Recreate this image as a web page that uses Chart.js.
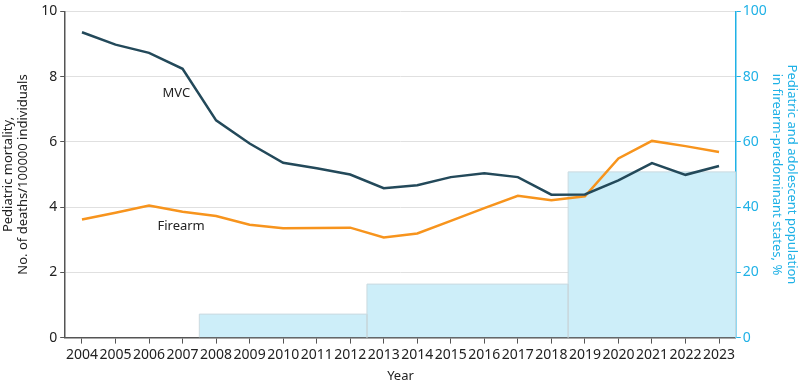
<!DOCTYPE html>
<html>
<head>
<meta charset="utf-8">
<script src="https://cdn.jsdelivr.net/npm/chart.js@4"></script>
<style>
  body { margin: 0; background: #fff; }
  #wrap { width: 810px; height: 384px; }
</style>
</head>
<body>
<div id="wrap"><canvas id="lineChart"></canvas></div>
<script>
const years = [2004, 2005, 2006, 2007, 2008, 2009, 2010, 2011, 2012, 2013,
               2014, 2015, 2016, 2017, 2018, 2019, 2020, 2021, 2022, 2023];
const mvc = [9.36, 8.98, 8.73, 8.24, 6.66, 5.95, 5.36, 5.19, 5.00, 4.58,
             4.67, 4.92, 5.04, 4.92, 4.38, 4.39, 4.82, 5.35, 4.99, 5.26];
const firearm = [3.62, 3.83, 4.05, 3.86, 3.73, 3.46, 3.35, 3.36, 3.37, 3.07,
                 3.19, 3.58, 3.97, 4.35, 4.21, 4.33, 5.49, 6.03, 5.87, 5.69];
// share of population living in firearm-predominant states, by period
const periodStart = [2007.5, 2012.5, 2018.5];
const periodEnd = [2012.5, 2018.5, 2023.5];
const periodShare = [7.2, 16.4, 50.8];
const leftTicks = [0, 2, 4, 6, 8, 10];
const rightTicks = [0, 20, 40, 60, 80, 100];

const font = "'Noto Sans', sans-serif";
const cyan = '#1fb1e6';

const mvcLine = years.map((y, i) => ({ x: y, y: mvc[i] }));
const firearmLine = years.map((y, i) => ({ x: y, y: firearm[i] }));

const boxes = periodShare.map((v, i) => ({
    type: 'line',
    yAxisID: 'y2',
    data: [
        { x: periodStart[i], y: 0 },
        { x: periodStart[i], y: v },
        { x: periodEnd[i], y: v },
        { x: periodEnd[i], y: 0 }
    ],
    borderColor: '#c9d9df',
    borderWidth: 1,
    backgroundColor: '#cdeef9',
    fill: 'origin',
    pointRadius: 0,
    tension: 0,
    order: 10
}));

// series names written next to the lines
const seriesLabels = {
    id: 'seriesLabels',
    afterDatasetsDraw(chart) {
        const { ctx, scales } = chart;
        ctx.save();
        ctx.font = "13px " + font;
        ctx.fillStyle = '#222';
        ctx.textBaseline = 'middle';
        ctx.fillText('MVC', scales.x.getPixelForValue(2006.4), scales.y.getPixelForValue(7.5));
        ctx.fillText('Firearm', scales.x.getPixelForValue(2006.25), scales.y.getPixelForValue(3.4));
        ctx.restore();
    }
};

Chart.defaults.font.family = font;
Chart.defaults.font.size = 13;

new Chart(document.getElementById('lineChart'), {
    type: 'line',
    data: {
        datasets: [
            {
                label: 'MVC',
                data: mvcLine,
                borderColor: '#23495a',
                borderWidth: 2.5,
                pointRadius: 0,
                tension: 0,
                order: 1
            },
            {
                label: 'Firearm',
                data: firearmLine,
                borderColor: '#f7941d',
                borderWidth: 2.5,
                pointRadius: 0,
                tension: 0,
                order: 2
            },
            ...boxes
        ]
    },
    plugins: [seriesLabels],
    options: {
        responsive: true,
        maintainAspectRatio: false,
        animation: false,
        layout: { padding: { top: 2, right: 8, left: 0, bottom: 0 } },
        plugins: { legend: { display: false }, tooltip: { enabled: false } },
        scales: {
            x: {
                type: 'linear',
                min: 2003.5,
                max: 2023.5,
                afterBuildTicks: s => { s.ticks = years.map(v => ({ value: v })); },
                grid: { display: true, drawOnChartArea: false, tickColor: '#555', tickLength: 6 },
                border: { color: '#555', width: 1.5 },
                ticks: { color: '#222', maxRotation: 0, autoSkip: false, padding: 3,
                         font: { size: 14 }, callback: v => String(v) },
                title: { display: true, text: 'Year', color: '#222', font: { size: 13 },
                         padding: { top: 2, bottom: 0 } }
            },
            y: {
                position: 'left',
                min: 0,
                max: 10,
                afterBuildTicks: s => { s.ticks = leftTicks.map(v => ({ value: v })); },
                grid: { color: '#e0e0e0', tickColor: '#555', tickLength: 5 },
                border: { color: '#555', width: 1.5 },
                ticks: { color: '#222', padding: 3, font: { size: 14 } },
                title: {
                    display: true,
                    text: ['Pediatric mortality,', 'No. of deaths/100000 individuals'],
                    color: '#222',
                    font: { size: 13 },
                    padding: { top: 0, bottom: 7 }
                }
            },
            y2: {
                position: 'right',
                min: 0,
                max: 100,
                afterBuildTicks: s => { s.ticks = rightTicks.map(v => ({ value: v })); },
                grid: { display: true, drawOnChartArea: false, tickColor: cyan, tickLength: 5 },
                border: { color: cyan, width: 1.5 },
                ticks: { color: cyan, padding: 2, font: { size: 14 } },
                title: {
                    display: true,
                    text: ['Pediatric and adolescent population', 'in firearm-predominant states, %'],
                    color: cyan,
                    font: { size: 13 },
                    padding: { top: 2, bottom: 0 }
                }
            }
        }
    }
});
</script>
</body>
</html>
